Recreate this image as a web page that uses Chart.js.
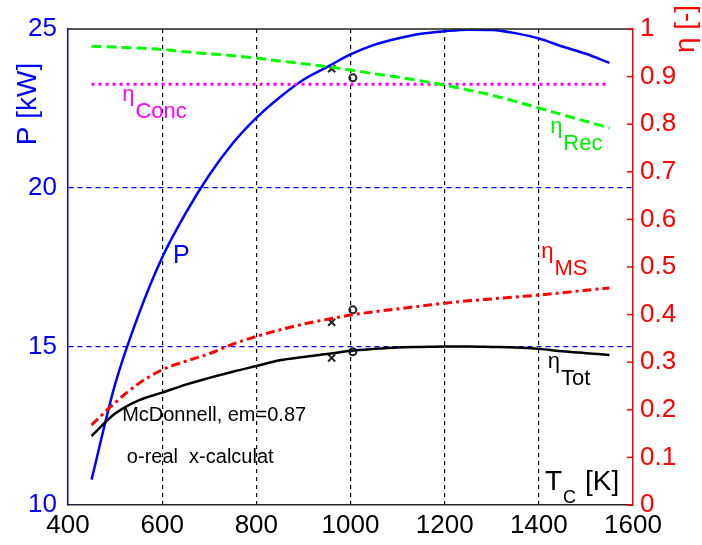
<!DOCTYPE html>
<html>
<head>
<meta charset="utf-8">
<script src="https://cdn.jsdelivr.net/npm/chart.js@4.4.1/dist/chart.umd.min.js"></script>
<style>
  html, body { margin: 0; padding: 0; background: #fff; }
  #wrap { width: 702px; height: 545px; }
</style>
</head>
<body>
<div id="wrap"><canvas id="chart"></canvas></div>
<script>
// collector temperature T_C [K]
const temps = [450, 500, 550, 600, 650, 700, 750, 800, 850, 900, 950, 1000,
               1050, 1100, 1150, 1200, 1250, 1300, 1350, 1400, 1450, 1500, 1550];
// power P [kW] (left axis)
const powerKW = [10.8, 13.8, 16.0, 17.8, 19.2, 20.4, 21.4, 22.2, 22.85, 23.4, 23.8, 24.2,
                 24.5, 24.7, 24.85, 24.93, 24.98, 24.97, 24.87, 24.7, 24.45, 24.22, 23.93];
// efficiencies (right axis)
const etaRec = [0.964, 0.962, 0.960, 0.957, 0.952, 0.948, 0.944, 0.939, 0.933, 0.927, 0.921, 0.914,
                0.906, 0.899, 0.891, 0.882, 0.872, 0.861, 0.848, 0.834, 0.820, 0.806, 0.792];
const etaMS = [0.168, 0.215, 0.255, 0.284, 0.302, 0.318, 0.338, 0.354, 0.368, 0.380, 0.390, 0.399,
               0.406, 0.412, 0.418, 0.424, 0.429, 0.433, 0.437, 0.441, 0.446, 0.451, 0.456];
const etaTot = [0.145, 0.192, 0.220, 0.236, 0.253, 0.267, 0.280, 0.292, 0.304, 0.311, 0.317, 0.324,
                0.328, 0.331, 0.332, 0.333, 0.333, 0.332, 0.331, 0.328, 0.323, 0.319, 0.315];
const concTemps = [450, 1550];
const etaConc = [0.884, 0.884];

// marks: [x-calculated, o-real]
const markTemps = [960, 1005];
const pMarks = [23.75, 23.46];
const msMarks = [0.384, 0.410];
const totMarks = [0.309, 0.322];

const FONT = '"Liberation Sans", Arial, sans-serif';

function pts(xs, ys) {
    return xs.map((x, i) => ({ x: x, y: ys[i] }));
}

function lineSet(xs, ys, axis, color, width, dash) {
    return {
        data: pts(xs, ys),
        yAxisID: axis,
        borderColor: color,
        backgroundColor: color,
        borderWidth: width,
        borderDash: dash,
        pointRadius: 0,
        fill: false,
        cubicInterpolationMode: 'monotone'
    };
}

function markSet(xs, ys, axis, style, r) {
    return {
        data: pts(xs, ys),
        yAxisID: axis,
        showLine: false,
        pointStyle: style,
        pointRadius: r,
        pointBorderWidth: 2,
        borderColor: '#222',
        backgroundColor: 'rgba(0,0,0,0)'
    };
}

// text with an eta and a subscript
function etaLabel(ctx, sub, px, py, color) {
    ctx.fillStyle = color;
    ctx.font = '22px ' + FONT;
    ctx.fillText('η', px, py);
    const w = ctx.measureText('η').width;
    ctx.fillText(sub, px + w + 1, py + 17);
}

const overlay = {
    id: 'overlay',
    afterDatasetsDraw(chart) {
        const { ctx, chartArea: a, scales } = chart;
        const x = scales.x, yP = scales.yP, yE = scales.yEta;
        ctx.save();
        // top of the box
        ctx.strokeStyle = '#222';
        ctx.lineWidth = 1.5;
        ctx.beginPath();
        ctx.moveTo(a.left, a.top);
        ctx.lineTo(a.right, a.top);
        ctx.stroke();
        // inward ticks on the right axis
        ctx.strokeStyle = '#ff0000';
        ctx.lineWidth = 1.5;
        yE.ticks.forEach(t => {
            const py = yE.getPixelForValue(t.value);
            ctx.beginPath();
            ctx.moveTo(a.right, py);
            ctx.lineTo(a.right - 6, py);
            ctx.stroke();
        });

        ctx.textBaseline = 'alphabetic';
        ctx.textAlign = 'left';
        etaLabel(ctx, 'Conc', x.getPixelForValue(515), yE.getPixelForValue(0.849), '#ff00ff');
        etaLabel(ctx, 'Rec', x.getPixelForValue(1424), yE.getPixelForValue(0.7815), '#00ee00');
        etaLabel(ctx, 'MS', x.getPixelForValue(1405), yE.getPixelForValue(0.519), '#ff0000');
        etaLabel(ctx, 'Tot', x.getPixelForValue(1419), yE.getPixelForValue(0.288), '#000');

        ctx.fillStyle = '#0000ff';
        ctx.font = '25px ' + FONT;
        ctx.fillText('P', x.getPixelForValue(623), yP.getPixelForValue(17.63));

        ctx.fillStyle = '#000';
        ctx.font = '20px ' + FONT;
        ctx.fillText('McDonnell, em=0.87', x.getPixelForValue(515), yE.getPixelForValue(0.176));
        ctx.fillText('o-real  x-calculat', x.getPixelForValue(525), yE.getPixelForValue(0.088));

        // x axis title
        const tx = x.getPixelForValue(1413), ty = yE.getPixelForValue(0.0315);
        ctx.font = '28px ' + FONT;
        ctx.fillText('T', tx, ty);
        ctx.font = '18px ' + FONT;
        ctx.fillText('C', tx + 18, ty + 13);
        ctx.font = '28px ' + FONT;
        ctx.fillText('[K]', tx + 40, ty);

        // y axis titles
        ctx.textAlign = 'center';
        ctx.textBaseline = 'middle';
        ctx.font = '28px ' + FONT;
        ctx.fillStyle = '#0000ff';
        ctx.translate(28, 104);
        ctx.rotate(-Math.PI / 2);
        ctx.fillText('P [kW]', 0, 0);
        ctx.setTransform(1, 0, 0, 1, 0, 0);
        ctx.fillStyle = '#ff0000';
        ctx.translate(686, 29);
        ctx.rotate(-Math.PI / 2);
        ctx.fillText('η [-]', 0, 0);
        ctx.restore();
    }
};

new Chart(document.getElementById('chart'), {
    type: 'line',
    data: {
        datasets: [
            lineSet(temps, etaRec, 'yEta', '#00ff00', 3, [10, 5]),
            lineSet(concTemps, etaConc, 'yEta', '#ff00ff', 3, [3, 4]),
            lineSet(temps, etaMS, 'yEta', '#ff0000', 3, [9, 4, 3, 4]),
            lineSet(temps, etaTot, 'yEta', '#000000', 2.5, []),
            lineSet(temps, powerKW, 'yP', '#0000ff', 2.5, []),
            markSet(markTemps.slice(0, 1), pMarks.slice(0, 1), 'yP', 'crossRot', 5),
            markSet(markTemps.slice(1), pMarks.slice(1), 'yP', 'circle', 3.5),
            markSet([markTemps[0], markTemps[0]], [msMarks[0], totMarks[0]], 'yEta', 'crossRot', 5),
            markSet([markTemps[1], markTemps[1]], [msMarks[1], totMarks[1]], 'yEta', 'circle', 3.5)
        ]
    },
    options: {
        responsive: true,
        maintainAspectRatio: false,
        animation: false,
        layout: { padding: { top: 29, left: 0, right: 0, bottom: 0 } },
        plugins: { legend: { display: false }, tooltip: { enabled: false } },
        scales: {
            x: {
                type: 'linear',
                min: 400,
                max: 1600,
                afterFit: s => { s.height = 40; },
                ticks: {
                    stepSize: 200, color: '#000', padding: 5, maxRotation: 0,
                    font: { family: FONT, size: 26 },
                    callback: v => String(v)
                },
                grid: {
                    drawTicks: false,
                    lineWidth: 1.2,
                    color: c => (c.tick && (c.tick.value === 400 || c.tick.value === 1600)) ? 'rgba(0,0,0,0)' : '#000'
                },
                border: { color: '#222', width: 1.5, dash: [4, 4] }
            },
            yP: {
                type: 'linear',
                position: 'left',
                min: 10,
                max: 25,
                afterFit: s => { s.width = 68; },
                ticks: {
                    stepSize: 5, color: '#0000ff', padding: 11,
                    font: { family: FONT, size: 26 },
                    callback: v => String(v)
                },
                grid: {
                    drawTicks: false,
                    lineWidth: 1.2,
                    color: c => (c.tick && (c.tick.value === 15 || c.tick.value === 20)) ? '#0000ff' : 'rgba(0,0,0,0)'
                },
                border: { color: '#0000ff', width: 1.5, dash: [5, 4] }
            },
            yEta: {
                type: 'linear',
                position: 'right',
                min: 0,
                max: 1,
                afterFit: s => { s.width = 69; },
                ticks: {
                    stepSize: 0.1, color: '#ff0000', padding: 7,
                    font: { family: FONT, size: 26 },
                    callback: v => String(Math.round(v * 10) / 10)
                },
                grid: { drawOnChartArea: false, drawTicks: false },
                border: { color: '#ff0000', width: 1.5 }
            }
        }
    },
    plugins: [overlay]
});
</script>
</body>
</html>
